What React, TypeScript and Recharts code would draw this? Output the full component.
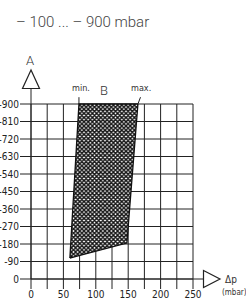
import { Area, CartesianGrid, ComposedChart, ReferenceLine, XAxis, YAxis } from "recharts";

const xTicks = [0, 25, 50, 75, 100, 125, 150, 175, 200, 225, 250];
const yTicks = [0, -90, -180, -270, -360, -450, -540, -630, -720, -810, -900];

// hatched working range B, as vertices along Δp
const bandDp = [60, 74, 148, 165];
const bandLow = [-108, -120, -185, -900];
const bandHigh = [-108, -900, -900, -900];

const data = bandDp.map((dp, i) => ({ dp, range: [bandLow[i], bandHigh[i]] }));

const INK = "#222";
const NARROW = "'Liberation Sans Narrow', 'DejaVu Sans Condensed', sans-serif";

export default function App() {
  return (
    <div style={{ position: "fixed", left: 0, top: 0, width: 246, height: 300, background: "#fff", overflow: "hidden" }}>
      <div
        style={{
          position: "absolute",
          left: 16,
          top: 13,
          fontFamily: "Roboto, sans-serif",
          fontWeight: 300,
          fontSize: 15,
          color: "#444",
          whiteSpace: "nowrap",
        }}
      >
        – 100 ... – 900 mbar
      </div>
      <div style={{ position: "absolute", left: 0, top: 0 }}>
        <ComposedChart width={246} height={300} data={data} margin={{ top: 104, right: 53, bottom: 0, left: 0 }}>
          <defs>
            <pattern id="xhatch" width="4.2" height="4.2" patternUnits="userSpaceOnUse">
              <rect width="4.2" height="4.2" fill="#fff" />
              <path
                d="M0,0 L4.2,4.2 M4.2,0 L0,4.2 M-1,3.2 L1,5.2 M3.2,-1 L5.2,1 M-1,1 L1,-1 M3.2,5.2 L5.2,3.2"
                stroke="#111"
                strokeWidth={1.35}
              />
            </pattern>
          </defs>
          <CartesianGrid stroke={INK} strokeWidth={1} horizontalValues={yTicks} verticalValues={xTicks} />
          <XAxis
            dataKey="dp"
            type="number"
            height={21}
            domain={[0, 250]}
            ticks={xTicks}
            interval={0}
            tickSize={10}
            tickMargin={2}
            tickFormatter={(v) => (v % 50 === 0 ? `${v}` : "")}
            tick={{ fontSize: 10, fill: INK, fontFamily: NARROW }}
            stroke={INK}
          />
          <YAxis
            type="number"
            width={31}
            domain={[-900, 0]}
            reversed
            ticks={yTicks}
            interval={0}
            tickSize={11}
            tickMargin={1}
            tick={{ fontSize: 10, fill: INK, fontFamily: NARROW }}
            stroke={INK}
          />
          <Area
            type="linear"
            dataKey="range"
            stroke="#111"
            strokeWidth={1.3}
            fill="url(#xhatch)"
            fillOpacity={1}
            dot={false}
            activeDot={false}
            isAnimationActive={false}
          />
          <ReferenceLine
            segment={[{ x: 74, y: -900 }, { x: 74, y: -935 }]}
            stroke={INK}
            ifOverflow="visible"
          />
          <ReferenceLine
            segment={[{ x: 165, y: -900 }, { x: 169, y: -935 }]}
            stroke={INK}
            ifOverflow="visible"
          />
        </ComposedChart>
      </div>
      <svg width={246} height={300} style={{ position: "absolute", left: 0, top: 0, pointerEvents: "none" }}>
        <line x1={31} y1={88} x2={31} y2={104} stroke={INK} />
        <polygon points="31,70 22.5,88.5 39.5,88.5" fill="#fff" stroke={INK} strokeWidth={1.2} />
        <text x={30} y={65} textAnchor="middle" fontSize={13} fill="#333" fontFamily="Roboto, sans-serif" fontWeight={300}>
          A
        </text>
        <line x1={193} y1={279} x2={204} y2={279} stroke={INK} />
        <polygon points="203.5,270.5 220,279 203.5,287.5" fill="#fff" stroke={INK} strokeWidth={1.2} />
        <text x={225} y={283} fontSize={10} fill="#333" fontFamily={NARROW}>
          Δp
        </text>
        <text x={222} y={295} fontSize={8} fill="#333" fontFamily={NARROW}>
          (mbar)
        </text>
        <text x={72} y={91} fontSize={9} fill="#333" fontFamily={NARROW}>
          min.
        </text>
        <text x={104} y={95} textAnchor="middle" fontSize={13} fill="#333" fontFamily="Roboto, sans-serif" fontWeight={300}>
          B
        </text>
        <text x={131} y={91} fontSize={9} fill="#333" fontFamily={NARROW}>
          max.
        </text>
      </svg>
    </div>
  );
}
